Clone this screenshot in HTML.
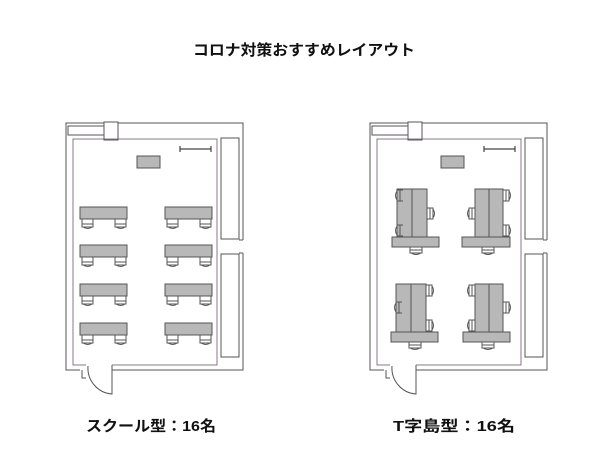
<!DOCTYPE html>
<html><head><meta charset="utf-8"><style>
html,body{margin:0;padding:0;background:#fff;}
svg{display:block}
text{font-family:"Liberation Sans","Noto Sans CJK JP",sans-serif;font-weight:bold;fill:#111}
</style></head><body>
<svg width="600" height="450" viewBox="0 0 600 450" xmlns="http://www.w3.org/2000/svg">
<defs>
<g id="room" fill="none" stroke="#555" stroke-width="1">
  <!-- outer wall -->
  <path d="M112,393 V370 H243 V253 M243,240 V123 H118 M104,123 H66 V370 H80"/>
  <path d="M82,370 V378 H86"/>
  <!-- inner wall -->
  <path d="M112,365 H217 V139 H73 V365 H86" stroke="#8a7a8a"/>
  <!-- top left box and column -->
  <rect x="68" y="126" width="36" height="9"/>
  <path d="M104,122 H118 V140 H104 Z"/>
  <!-- right shelves -->
  <rect x="221" y="138" width="18" height="101"/>
  <rect x="221" y="254" width="18" height="103"/>
  <path d="M239,240 H243 M239,253 H243"/>
  <!-- door -->
  <path d="M112,365 V394 A26,26 0 0 1 88,366"/>
  <!-- teacher table -->
  <rect x="137" y="156" width="23" height="12" fill="#b8b8b8"/>
  <!-- whiteboard -->
  <path d="M180,149 H211 M180,146 V152 M211,146 V152" stroke="#444" stroke-width="1.2"/>
</g>
<g id="sdesk" stroke="#555" fill="#b8b8b8">
  <rect x="0" y="0" width="47" height="12"/>
  <path d="M2,12 v8 h11 v-8 M2,17 h11 M3,20 q5,3 9,0" fill="none"/>
  <path d="M35,12 v8 h11 v-8 M35,17 h11 M36,20 q5,3 9,0" fill="none"/>
</g>
<g id="chairD" fill="none" stroke="#555"><path d="M0,0 v6 h12 v-6 M0,3 h12 M1,6 q5,3 10,0"/></g>
<g id="chairL" fill="none" stroke="#555"><path d="M6,0 h-6 v11 h6 M3,0 v11 M0,1 q-3,4.5 0,9"/></g>
<g id="chairR" fill="none" stroke="#555"><path d="M0,0 h6 v11 h-6 M3,0 v11 M6,1 q3,4.5 0,9"/></g>
</defs>

<text x="304" y="55" font-size="15" text-anchor="middle" textLength="222" lengthAdjust="spacingAndGlyphs">コロナ対策おすすめレイアウト</text>

<!-- left room -->
<use href="#room"/>
<use href="#sdesk" x="80" y="207"/><use href="#sdesk" x="165" y="207"/>
<use href="#sdesk" x="80" y="245"/><use href="#sdesk" x="165" y="245"/>
<use href="#sdesk" x="80" y="284"/><use href="#sdesk" x="165" y="284"/>
<use href="#sdesk" x="80" y="323"/><use href="#sdesk" x="165" y="323"/>

<!-- right room -->
<use href="#room" x="304"/>
<g stroke="#555" fill="#b8b8b8">
  <!-- group 1 -->
  <rect x="397" y="189" width="15" height="48"/><rect x="412" y="189" width="15" height="48"/>
  <rect x="392" y="237" width="47" height="10"/>
  <!-- group 2 -->
  <rect x="475" y="189" width="14" height="48"/><rect x="489" y="189" width="14" height="48"/>
  <rect x="462" y="237" width="48" height="10"/>
  <!-- group 3 -->
  <rect x="396" y="284" width="15" height="48"/><rect x="411" y="284" width="15" height="48"/>
  <rect x="391" y="332" width="47" height="10"/>
  <!-- group 4 -->
  <rect x="475" y="284" width="14" height="48"/><rect x="489" y="284" width="14" height="48"/>
  <rect x="463" y="332" width="47" height="10"/>
</g>
<use href="#chairD" x="410" y="247"/><use href="#chairD" x="482" y="247"/>
<use href="#chairD" x="409" y="342"/><use href="#chairD" x="482" y="342"/>
<use href="#chairL" x="397" y="190"/><use href="#chairL" x="397" y="225"/><use href="#chairR" x="427" y="208"/>
<use href="#chairR" x="503" y="190"/><use href="#chairR" x="503" y="225"/><use href="#chairL" x="469" y="208"/>
<use href="#chairR" x="426" y="285"/><use href="#chairR" x="426" y="320"/><use href="#chairL" x="396" y="302"/>
<use href="#chairL" x="469" y="285"/><use href="#chairL" x="469" y="320"/><use href="#chairR" x="503" y="302"/>

<text x="86" y="431" font-size="15" textLength="130" lengthAdjust="spacingAndGlyphs">スクール型：16名</text>
<text x="393" y="431" font-size="15" textLength="122" lengthAdjust="spacingAndGlyphs">T字島型：16名</text>
</svg>
</body></html>
